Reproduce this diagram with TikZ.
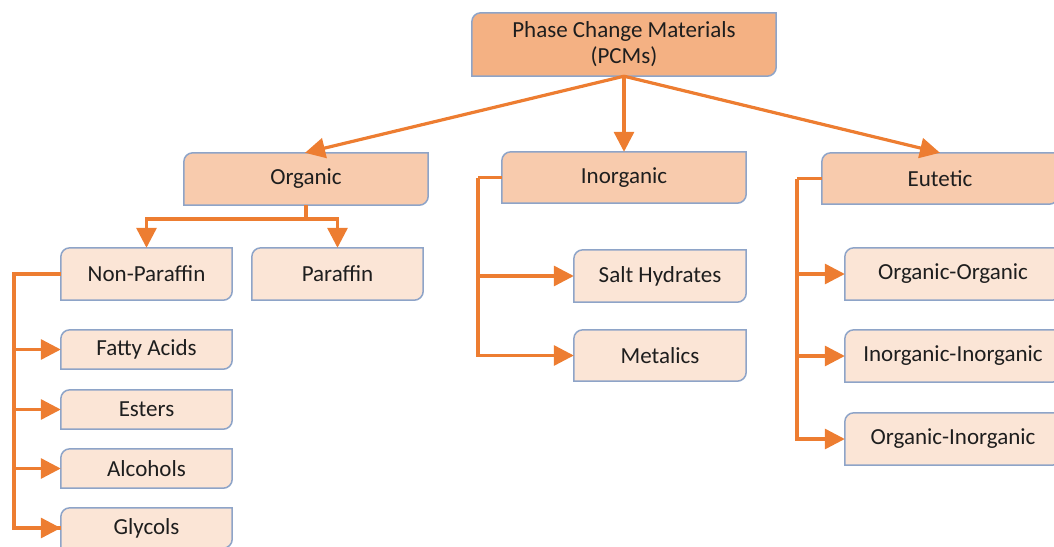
\documentclass[tikz,border=0pt]{standalone}
\usepackage{fontspec}
\setmainfont{Carlito}
\usetikzlibrary{arrows.meta,backgrounds}
\definecolor{cdark}{HTML}{F4B183}
\definecolor{cmid}{HTML}{F8CBAD}
\definecolor{clight}{HTML}{FBE5D6}
\definecolor{cedge}{HTML}{8EA4C8}
\definecolor{corange}{HTML}{ED7D31}
\definecolor{ctext}{HTML}{1E1E1E}
\newcommand\rdbox[2]{%
 \path[draw=cedge, line width=1.5pt, fill=#2] (#1.south west) -- ([yshift=-9pt]#1.north west) arc[start angle=180,end angle=90,radius=9pt] -- (#1.north east) -- ([yshift=9pt]#1.south east) arc[start angle=0,end angle=-90,radius=9pt] -- cycle;}
\tikzset{
  lbl/.style={inner sep=0pt, text=ctext, font=\fontsize{23}{26}\selectfont, align=center},
  conn/.style={draw=corange, line width=3.2pt, -{Triangle[length=20pt,width=20pt]}},
  plain/.style={draw=corange, line width=3.2pt},
}
\begin{document}
\begin{tikzpicture}[x=1pt,y=-1pt]
\useasboundingbox (0,0) rectangle (1054,546);
\clip (0,0) rectangle (1054,546);
\node[lbl, minimum width=304pt, minimum height=63pt] (pcm) at (624,44.5) {Phase Change Materials\\(PCMs)};
\node[lbl, minimum width=244pt, minimum height=52pt] (org) at (306,179) {Organic};
\node[lbl, minimum width=244pt, minimum height=51pt] (inorg) at (624,177.5) {Inorganic};
\node[lbl, minimum width=236pt, minimum height=51pt] (eut) at (940,178.5) {Eutetic};
\node[lbl, minimum width=171pt, minimum height=52pt] (nonpar) at (146.5,274) {Non-Paraffin};
\node[lbl, minimum width=171pt, minimum height=52pt] (par) at (337.5,274) {Paraffin};
\node[lbl, minimum width=171pt, minimum height=39pt] (fatty) at (146.5,349.5) {Fatty Acids};
\node[lbl, minimum width=171pt, minimum height=39pt] (esters) at (146.5,409.5) {Esters};
\node[lbl, minimum width=171pt, minimum height=39pt] (alc) at (146.5,468.5) {Alcohols};
\node[lbl, minimum width=171pt, minimum height=40pt] (gly) at (146.5,528) {Glycols};
\node[lbl, minimum width=172pt, minimum height=52pt] (salt) at (660,276) {Salt Hydrates};
\node[lbl, minimum width=172pt, minimum height=51pt] (metal) at (660,355.5) {Metalics};
\node[lbl, minimum width=216pt, minimum height=52pt] (oo) at (953,274) {Organic-Organic};
\node[lbl, minimum width=216pt, minimum height=52pt] (ii) at (953,356) {Inorganic-Inorganic};
\node[lbl, minimum width=216pt, minimum height=52pt] (oi) at (953,439) {Organic-Inorganic};
\begin{scope}[on background layer]
\rdbox{pcm}{cdark}
\rdbox{org}{cmid}\rdbox{inorg}{cmid}\rdbox{eut}{cmid}
\rdbox{nonpar}{clight}\rdbox{par}{clight}
\rdbox{fatty}{clight}\rdbox{esters}{clight}\rdbox{alc}{clight}\rdbox{gly}{clight}
\rdbox{salt}{clight}\rdbox{metal}{clight}
\rdbox{oo}{clight}\rdbox{ii}{clight}\rdbox{oi}{clight}
\end{scope}
\draw[conn] (pcm.south) -- ([xshift=-1pt]org.north);
\draw[conn] (pcm.south) -- (inorg.north);
\draw[conn] (pcm.south) -- (eut.north);
\coordinate (ojoin) at (306,219);
\draw[plain] (org.south) -- (ojoin);
\draw[conn] (ojoin) -| (nonpar.north);
\draw[conn] (ojoin) -| (par.north);
\coordinate (nrail) at (14,274);
\draw[plain] (nonpar.west) -- (nrail) |- (gly.west);
\draw[conn] (nrail) |- (fatty.west);
\draw[conn] (nrail) |- (esters.west);
\draw[conn] (nrail) |- (alc.west);
\draw[conn] (nrail) |- (gly.west);
\coordinate (irail) at (478,177.5);
\draw[plain] (inorg.west) -- (irail);
\draw[conn] (irail) |- (salt.west);
\draw[conn] (irail) |- (metal.west);
\coordinate (erail) at (797,178.5);
\draw[plain] (eut.west) -- (erail);
\draw[conn] (erail) |- (oo.west);
\draw[conn] (erail) |- (ii.west);
\draw[conn] (erail) |- (oi.west);
\end{tikzpicture}
\end{document}
